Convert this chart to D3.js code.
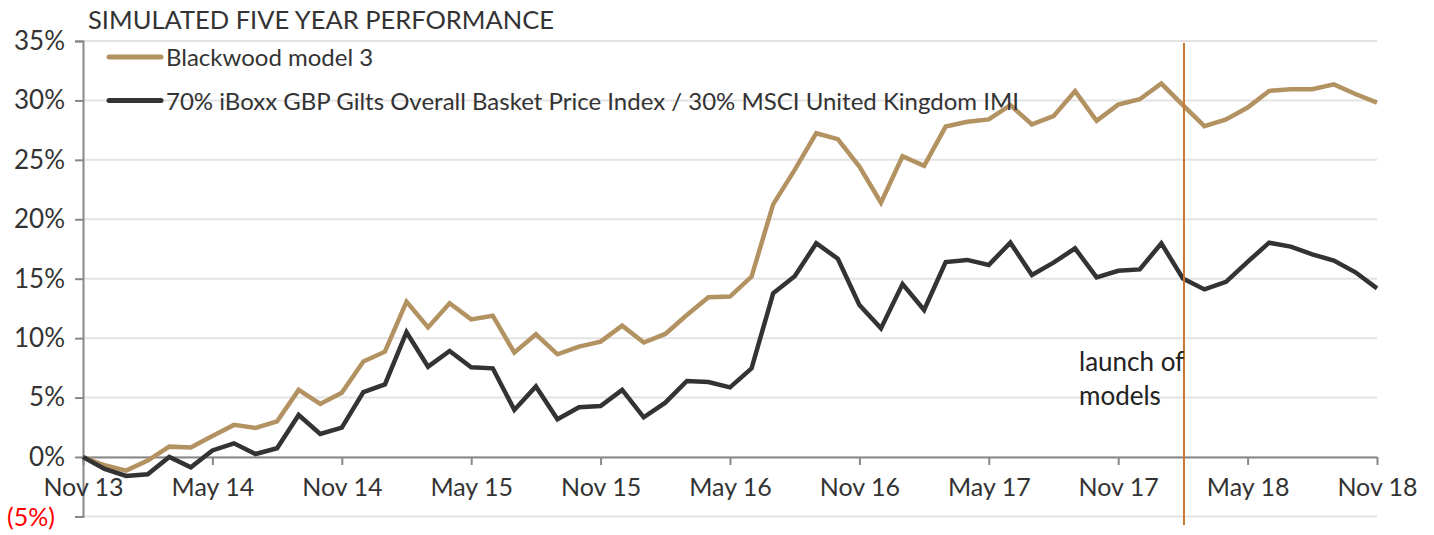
<!DOCTYPE html>
<html>
<head>
<meta charset="utf-8">
<script src="https://cdn.jsdelivr.net/npm/d3@7"></script>
<style>
  body { margin: 0; background: #fff; }
  text { font-family: Lato, "Open Sans", sans-serif; }
</style>
</head>
<body>
<svg id="chart"></svg>
<script>
// month index 0 = Nov 13 ... 60 = Nov 18
const tickMonths = [0, 6, 12, 18, 24, 30, 36, 42, 48, 54, 60];
const tickLabels = ['Nov 13', 'May 14', 'Nov 14', 'May 15', 'Nov 15', 'May 16',
                    'Nov 16', 'May 17', 'Nov 17', 'May 18', 'Nov 18'];
const yTicks = [-5, 0, 5, 10, 15, 20, 25, 30, 35];

const seriesNames = ['Blackwood model 3',
  '70% iBoxx GBP Gilts Overall Basket Price Index / 30% MSCI United Kingdom IMI'];

const blackwood = [
  0.0, -0.7, -1.15, -0.3, 0.87, 0.8, 1.77, 2.7, 2.45, 3.0,
  5.64, 4.46, 5.4, 8.03, 8.86, 13.07, 10.9, 12.93, 11.58, 11.89,
  8.78, 10.32, 8.64, 9.29, 9.71, 11.05, 9.63, 10.35, 11.95, 13.44,
  13.5, 15.18, 21.25, 24.15, 27.24, 26.74, 24.43, 21.4, 25.3, 24.5,
  27.8, 28.2, 28.4, 29.6, 27.98, 28.68, 30.78, 28.28, 29.65, 30.1,
  31.42, 29.6, 27.83, 28.4, 29.4, 30.8, 30.93, 30.95, 31.35, 30.54,
  29.81
];
const benchmark = [
  0.0, -1.0, -1.6, -1.45, 0.0, -0.87, 0.55, 1.15, 0.25, 0.73,
  3.53, 1.94, 2.47, 5.45, 6.1, 10.5, 7.6, 8.92, 7.55, 7.46,
  3.96, 5.93, 3.17, 4.18, 4.29, 5.64, 3.34, 4.57, 6.39, 6.31,
  5.86, 7.46, 13.77, 15.2, 17.98, 16.68, 12.79, 10.82, 14.55, 12.37,
  16.4, 16.58, 16.16, 18.03, 15.31, 16.35, 17.55, 15.11, 15.67, 15.78,
  17.98, 15.02, 14.1, 14.74, 16.42, 18.03, 17.7, 17.05, 16.52, 15.54,
  14.19
];
const launchMonth = 51.05;

const width = 1434, height = 535;
const gold = '#b39262', dark = '#333333';

const svg = d3.select('#chart').attr('width', width).attr('height', height);

const x = d3.scaleLinear().domain([0, 60]).range([83, 1377]);
const y = d3.scaleLinear().domain([-5, 35]).range([516.4, 41]);

// grid lines
svg.append('g')
  .selectAll('line')
  .data(yTicks)
  .join('line')
  .attr('x1', x(0)).attr('x2', x(60))
  .attr('y1', d => y(d)).attr('y2', d => y(d))
  .attr('stroke', '#e3e3e3')
  .attr('stroke-width', 2);

// y axis
const yAxis = d3.axisLeft(y).tickValues(yTicks).tickSize(8).tickPadding(10)
  .tickFormat(d => d < 0 ? `(${-d}%)` : `${d}%`);
const yg = svg.append('g').attr('transform', `translate(${x(0)},0)`).call(yAxis);
yg.select('.domain').attr('stroke', '#888').attr('stroke-width', 2);
yg.selectAll('.tick line').attr('stroke', '#888').attr('stroke-width', 2);
yg.selectAll('.tick text')
  .style('font-size', d => d < 0 ? '25px' : '26px')
  .attr('dx', d => d < 0 ? -10 : 0)
  .attr('dy', d => d < 0 ? '0.36em' : '0.32em')
  .attr('fill', d => d < 0 ? '#ff0000' : '#333');

// x axis on the 0% line
const xAxis = d3.axisBottom(x).tickValues(tickMonths).tickSize(8).tickSizeOuter(0).tickPadding(13)
  .tickFormat((d, i) => tickLabels[i]);
const xg = svg.append('g').attr('transform', `translate(0,${y(0)})`).call(xAxis);
xg.select('.domain').attr('stroke', '#888').attr('stroke-width', 2);
xg.selectAll('.tick line').attr('stroke', '#888').attr('stroke-width', 2);
xg.selectAll('.tick text').style('font-size', '25px').attr('fill', '#333');

// lines
const line = d3.line().x((d, i) => x(i)).y(d => y(d));
svg.append('path')
  .attr('d', line(blackwood))
  .attr('fill', 'none').attr('stroke', gold).attr('stroke-width', 4.5)
  .attr('stroke-linejoin', 'miter');
svg.append('path')
  .attr('d', line(benchmark))
  .attr('fill', 'none').attr('stroke', dark).attr('stroke-width', 4.5)
  .attr('stroke-linejoin', 'miter');

// launch marker
svg.append('line')
  .attr('x1', x(launchMonth)).attr('x2', x(launchMonth))
  .attr('y1', 43).attr('y2', 525)
  .attr('stroke', '#c8782f').attr('stroke-width', 2);
svg.append('text')
  .attr('x', 1079).attr('y', 371)
  .style('font-size', '26px').attr('fill', '#222')
  .selectAll('tspan')
  .data(['launch of', 'models'])
  .join('tspan')
  .attr('x', 1079)
  .attr('dy', (d, i) => i === 0 ? 0 : 34)
  .text(d => d);

// legend
const legend = svg.append('g');
[gold, dark].forEach((c, i) => {
  const ly = 57 + i * 43.5;
  legend.append('line')
    .attr('x1', 109).attr('x2', 161).attr('y1', ly).attr('y2', ly)
    .attr('stroke', c).attr('stroke-width', 5).attr('stroke-linecap', 'round');
  legend.append('text')
    .attr('x', 166).attr('y', ly + 9)
    .style('font-size', '24px').attr('fill', '#333')
    .text(seriesNames[i]);
});

// title
svg.append('text')
  .attr('x', 88).attr('y', 29)
  .style('font-size', '25.5px').attr('fill', '#333')
  .text('SIMULATED FIVE YEAR PERFORMANCE');
</script>
</body>
</html>
